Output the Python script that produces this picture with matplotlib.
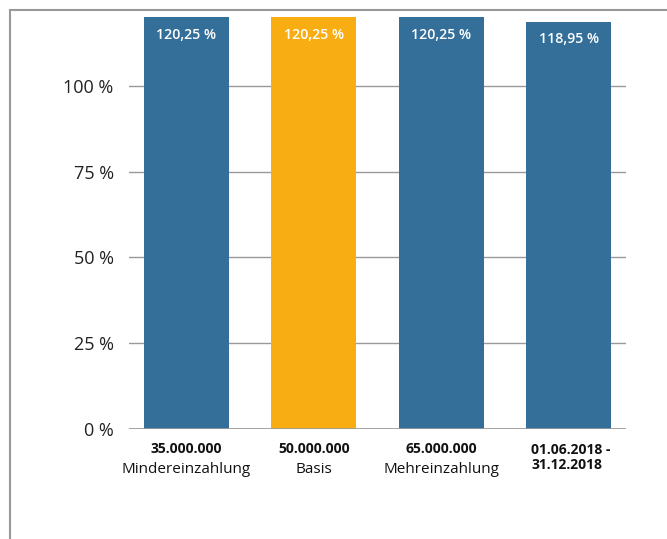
import matplotlib
matplotlib.use('Agg')
import matplotlib.pyplot as plt
from matplotlib.lines import Line2D

plt.rcParams['font.family'] = ['Open Sans', 'DejaVu Sans']

# data
amounts = ['35.000.000', '50.000.000', '65.000.000', '01.06.2018 -\n31.12.2018']
names = ['Mindereinzahlung', 'Basis', 'Mehreinzahlung', '']
values = [120.25, 120.25, 120.25, 118.95]
value_labels = ['120,25 %', '120,25 %', '120,25 %', '118,95 %']
yticks = [0, 25, 50, 75, 100]
ytick_labels = ['0 %', '25 %', '50 %', '75 %', '100 %']

blue = '#346F9A'
orange = '#F8AD12'
colors = [blue, orange, blue, blue]

fig = plt.figure(figsize=(6.67, 5.39), dpi=100)
W, H = 667, 539
ax = fig.add_axes([129 / W, 1 - 428.5 / H, (626 - 129) / W, (428.5 - 16) / H])

x = list(range(len(values)))
ax.bar(x, values, width=0.67, color=colors, zorder=2)
ax.set_xlim(-0.45, 3.45)
ax.set_ylim(0, 120.6)

ax.set_yticks(yticks)
ax.set_yticklabels(ytick_labels)
ax.tick_params(axis='y', length=0, pad=11, labelsize=13, labelcolor='#222222')
ax.set_xticks([])
ax.grid(axis='y', color='#999999', linewidth=1, zorder=1)
for s in ax.spines.values():
    s.set_visible(False)
ax.axhline(0, color='#999999', linewidth=1.2, zorder=3)

# value labels inside the bars
for xi, v, lab in zip(x, values, value_labels):
    ax.annotate(lab, (xi, v), xytext=(0, -12.5), textcoords='offset points',
                ha='center', va='center', color='white', fontsize=10.2,
                fontweight='semibold')

# category labels below the axis
for xi, amt, name in zip(x, amounts, names):
    if '\n' in amt:
        ax.annotate(amt, (xi, 0), xycoords=('data', 'axes fraction'),
                    xytext=(1.5, -10.5), textcoords='offset points',
                    ha='center', va='top', multialignment='left',
                    fontsize=10, fontweight='bold', color='#111111',
                    linespacing=1.05)
    else:
        ax.annotate(amt, (xi, 0), xycoords=('data', 'axes fraction'),
                    xytext=(0, -17.9), textcoords='offset points',
                    ha='center', va='baseline', fontsize=10,
                    fontweight='bold', color='#111111')
        ax.annotate(name, (xi, 0), xycoords=('data', 'axes fraction'),
                    xytext=(0, -32.3), textcoords='offset points',
                    ha='center', va='baseline', fontsize=11,
                    color='#111111')

# grey frame around the chart, open to the right and bottom
fig.add_artist(Line2D([10 / W, 1], [1 - 10 / H, 1 - 10 / H],
                      color='#999999', linewidth=1.5))
fig.add_artist(Line2D([10 / W, 10 / W], [0, 1 - 10 / H],
                      color='#999999', linewidth=1.5))

fig.savefig('out.png', dpi=100)
